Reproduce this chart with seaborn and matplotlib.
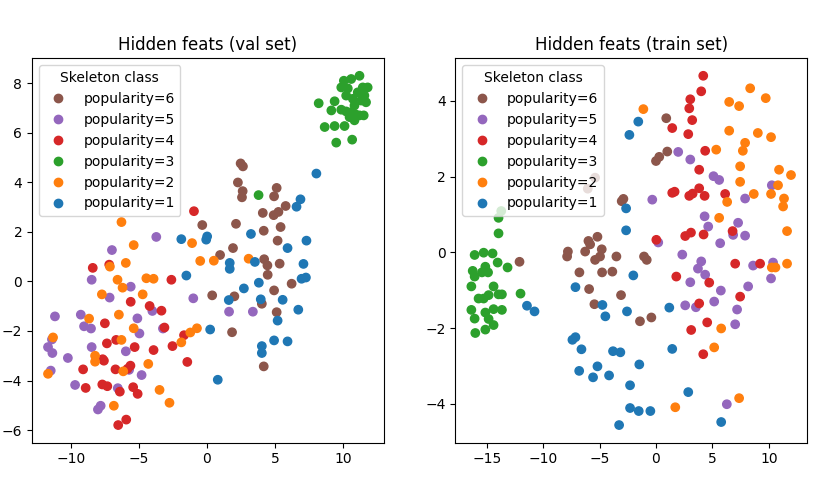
import pandas as pd
import matplotlib
matplotlib.use("Agg")
import matplotlib.pyplot as plt
import seaborn as sns

classes = ["popularity=6", "popularity=5", "popularity=4",
           "popularity=3", "popularity=2", "popularity=1"]
colors = ["#8c564b", "#9467bd", "#d62728", "#2ca02c", "#ff7f0e", "#1f77b4"]

# ---- validation set (x, y) per class ----
val_pop6 = [(2.48, 4.77), (2.65, 4.65), (2.28, 4.00), (2.63, 3.65), (2.58, 3.40),
            (5.13, 3.78), (4.94, 3.44), (4.11, 2.77), (4.91, 2.68), (5.26, 2.81),
            (5.79, 3.05), (-0.34, 2.28), (2.14, 2.33), (4.18, 2.05), (5.42, 2.20),
            (5.20, 1.65), (1.92, 1.35), (0.97, 1.07), (4.21, 0.90), (4.45, 0.65),
            (5.35, 0.72), (4.47, 0.27), (6.23, -0.09), (4.94, -0.36), (0.39, -0.56),
            (2.02, -0.60), (4.04, -0.90), (5.13, -1.24), (1.85, -2.05), (4.18, -3.43)]
val_pop5 = [(-3.72, 1.80), (-6.98, 1.27), (-8.47, 0.07), (-5.60, -0.21), (-7.15, -0.65),
            (-1.00, -0.68), (-4.01, -1.19), (-5.11, -1.49), (-11.17, -1.41), (-9.27, -1.34),
            (-9.03, -1.81), (-8.52, -1.90), (-4.96, -2.10), (-3.23, -1.90), (-11.39, -2.34),
            (-11.68, -2.65), (-11.36, -2.89), (-10.22, -3.09), (-8.47, -2.65), (-5.96, -2.82),
            (-5.72, -3.57), (-4.80, -3.78), (-11.48, -3.60), (-9.69, -4.18), (-6.55, -4.31),
            (-8.01, -5.17), (-7.81, -5.02), (1.63, -1.22), (3.38, -1.22)]
val_pop4 = [(-0.95, 2.84), (-8.39, 0.55), (-7.18, 0.68), (-2.61, 0.07), (-5.60, -0.82),
            (-4.21, -0.99), (-3.34, -1.18), (-7.50, -1.69), (-3.12, -1.86), (-1.68, -2.17),
            (-6.67, -2.36), (-7.35, -2.50), (-5.31, -2.65), (-3.92, -2.77), (-2.53, -2.61),
            (-7.66, -3.14), (-7.57, -3.20), (-9.10, -3.55), (-6.72, -3.55), (-5.62, -3.40),
            (-1.44, -3.25), (-5.84, -3.53), (-8.91, -4.30), (-7.69, -4.16), (-7.32, -4.23),
            (-6.40, -4.45), (-5.42, -4.27), (-5.09, -4.54), (-6.52, -5.80), (-5.93, -5.58)]
val_pop3 = [(8.22, 7.20), (9.39, 7.28), (9.15, 6.91), (9.88, 6.94), (10.24, 6.87),
            (10.61, 6.84), (10.93, 6.75), (11.22, 6.71), (11.53, 6.71), (10.85, 6.51),
            (8.66, 6.24), (9.39, 6.28), (10.12, 6.28), (9.51, 5.61), (10.68, 5.73),
            (10.07, 8.11), (10.61, 8.18), (11.22, 8.31), (9.88, 7.84), (10.36, 7.80),
            (11.46, 7.84), (11.82, 7.84), (11.09, 7.64), (10.24, 7.51), (10.73, 7.38),
            (11.34, 7.31), (11.70, 7.24), (10.85, 7.11), (11.58, 7.51), (10.49, 6.64),
            (3.80, 3.49)]
val_pop2 = [(-6.28, 2.40), (-5.38, 1.47), (-1.09, 1.55), (-0.49, 0.83), (-5.96, 0.75),
            (-7.13, 0.60), (-6.57, 0.07), (-4.45, 0.13), (-3.92, 0.11), (-6.20, -0.25),
            (-7.72, -0.52), (-4.72, -0.52), (-6.47, -1.34), (-8.66, -1.50), (-5.38, -1.89),
            (-0.73, -1.89), (-1.22, -2.06), (-1.88, -2.46), (-6.28, -2.36), (-11.31, -2.26),
            (-8.22, -3.00), (-8.22, -3.24), (-4.31, -3.33), (-6.15, -3.63), (-11.68, -3.73),
            (-3.48, -4.38), (-2.75, -4.90), (-6.84, -5.02), (0.51, 0.84), (3.07, 0.92)]
val_pop1 = [(8.05, 4.36), (6.88, 3.32), (6.59, 3.02), (3.24, 1.92), (0.02, 1.82),
            (-0.05, 1.69), (7.32, 1.65), (5.93, 1.35), (1.68, 0.75), (1.68, 0.51),
            (3.53, 0.79), (7.10, 0.71), (6.96, 0.11), (7.28, 0.16), (3.82, -0.05),
            (2.72, -0.28), (1.61, -0.75), (3.96, -0.72), (5.57, -0.74), (6.72, -1.14),
            (5.20, -1.58), (0.24, -1.94), (4.94, -2.38), (5.93, -2.42), (4.04, -2.61),
            (4.04, -2.89), (0.80, -3.97), (-1.88, 1.71), (-1.51, 0.24)]

# ---- training set (x, y) per class ----
train_pop6 = [(-12.10, -0.25), (-3.04, 1.35), (-2.89, 1.41), (-7.81, 0.02), (-7.88, -0.11),
              (-5.99, 0.30), (-5.84, 0.21), (-5.19, 0.41), (-6.28, 0.02), (-4.81, 0.08),
              (-4.96, -0.11), (-5.40, -0.20), (-3.51, -0.11), (-6.79, -0.53), (-4.78, -0.53),
              (-3.87, -0.51), (-5.93, -0.97), (-3.10, -1.13), (-5.46, -1.37), (-6.05, 1.68),
              (-5.40, 1.97), (0.91, 3.54), (1.00, 2.66), (0.29, 2.52), (0.00, 2.41),
              (-1.06, -0.11), (-0.82, -0.20), (-1.42, -1.82), (-0.41, -1.72)]
train_pop5 = [(1.97, 2.65), (3.04, 2.45), (5.10, 2.01), (5.60, 1.91), (10.27, 1.77),
              (-0.33, 1.39), (7.90, 1.42), (4.31, 0.95), (4.63, 0.68), (7.28, 0.78),
              (6.84, 0.46), (7.90, 0.44), (5.69, 0.24), (0.20, 0.26), (2.33, -0.06),
              (4.01, -0.24), (3.72, -0.43), (4.36, -0.59), (3.04, -0.79), (5.75, -1.01),
              (8.17, -0.90), (8.61, -0.35), (10.38, -0.27), (10.20, -0.69), (2.59, -1.40),
              (3.54, -1.45), (5.16, -1.30), (7.19, -1.51), (7.02, -1.90), (6.28, -4.01)]
train_pop4 = [(4.19, 4.66), (4.01, 4.25), (3.04, 4.04), (2.95, 3.80), (3.21, 3.49),
              (1.44, 3.28), (2.86, 3.12), (4.36, 2.68), (3.83, 2.18), (1.44, 1.57),
              (1.65, 1.60), (2.95, 1.49), (3.25, 1.55), (3.83, 1.69), (4.31, 1.49),
              (6.13, 1.54), (0.03, 0.33), (2.59, 0.43), (3.10, 0.52), (4.22, 0.47),
              (6.79, 0.56), (7.02, -0.30), (9.23, -0.30), (1.80, -0.64), (4.72, -0.80),
              (7.46, -1.17), (3.83, -1.35), (4.54, -1.85), (3.12, -2.05), (4.19, -2.69)]
train_pop3 = [(-13.72, 1.09), (-13.96, 0.91), (-13.96, 0.50), (-16.08, -0.07), (-15.28, -0.01),
              (-14.49, -0.03), (-14.04, -0.27), (-13.16, -0.40), (-15.13, -0.38), (-16.25, -0.49),
              (-15.43, -0.53), (-14.89, -0.53), (-16.08, -0.64), (-16.37, -0.90), (-14.40, -0.90),
              (-13.96, -1.11), (-13.66, -1.11), (-14.84, -1.13), (-15.73, -1.22), (-15.28, -1.22),
              (-12.01, -1.09), (-16.37, -1.52), (-15.13, -1.59), (-14.40, -1.50), (-13.66, -1.52),
              (-16.08, -1.75), (-14.84, -1.76), (-14.40, -1.92), (-15.13, -2.04), (-16.02, -2.13)]
train_pop2 = [(-1.12, 3.78), (8.35, 4.33), (6.49, 3.97), (7.37, 3.86), (9.73, 4.07),
              (6.49, 3.21), (9.03, 3.15), (10.20, 3.04), (7.90, 2.89), (7.70, 2.68),
              (5.34, 2.71), (7.46, 2.27), (10.91, 2.18), (11.97, 2.04), (7.46, 1.86),
              (10.82, 1.77), (8.67, 1.54), (10.20, 1.54), (11.35, 1.42), (11.27, 1.21),
              (6.31, 1.33), (5.60, 0.91), (11.62, 0.56), (10.27, -0.40), (10.59, -0.40),
              (11.62, -0.30), (5.78, -2.01), (5.16, -2.51), (7.37, -3.85), (1.71, -4.09)]
train_pop1 = [(-2.65, 1.16), (-2.65, 0.58), (-2.01, -0.61), (-7.14, -0.92), (-11.44, -1.41),
              (-10.77, -1.56), (-4.75, -1.39), (-4.49, -1.69), (-2.57, -1.56), (-7.41, -2.31),
              (-7.14, -2.24), (-6.61, -2.56), (-3.81, -2.61), (-3.16, -2.64), (-6.81, -3.13),
              (-5.19, -3.01), (-5.58, -3.30), (-4.16, -3.25), (-2.30, -3.51), (-2.30, -4.11),
              (-3.27, -4.56), (-1.57, 3.45), (-2.36, 3.10), (1.18, -1.46), (1.44, -2.55),
              (-1.48, -2.96), (2.86, -3.69), (-1.53, -4.19), (-0.50, -4.19), (5.78, -4.48)]


def to_frame(groups):
    rows = []
    for label, pts in zip(classes, groups):
        for x, y in pts:
            rows.append({"x": x, "y": y, "cls": label})
    return pd.DataFrame(rows)


val_df = to_frame([val_pop6, val_pop5, val_pop4, val_pop3, val_pop2, val_pop1])
train_df = to_frame([train_pop6, train_pop5, train_pop4, train_pop3, train_pop2, train_pop1])

fig, axes = plt.subplots(1, 2, figsize=(8.13, 4.98), dpi=100)
fig.subplots_adjust(left=0.0394, right=0.9926, bottom=0.1114, top=0.8829, wspace=0.204)

palette = dict(zip(classes, colors))
for ax, df, title in [(axes[0], val_df, "Hidden feats (val set)"),
                      (axes[1], train_df, "Hidden feats (train set)")]:
    sns.scatterplot(data=df, x="x", y="y", hue="cls", hue_order=classes,
                    palette=palette, s=36, edgecolor="face", linewidth=1, ax=ax)
    ax.set_title(title)
    ax.set(xlabel="", ylabel="")
    sns.move_legend(ax, "upper left", title="Skeleton class")

plt.savefig("out.png", dpi=100)
